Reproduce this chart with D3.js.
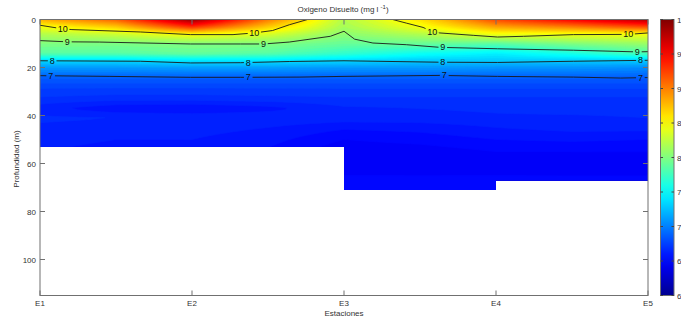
<!DOCTYPE html>
<html><head><meta charset="utf-8">
<script src="https://cdn.jsdelivr.net/npm/d3@7/dist/d3.min.js"></script>
<style>
html,body{margin:0;padding:0;background:#fff;overflow:hidden;}
text{font-family:"Liberation Sans",Arial,sans-serif;}
</style></head>
<body>
<script>
// ---------------- DATA ----------------
const stations = ["E1","E2","E3","E4","E5"];
const depthTicks = [0,20,40,60,80,100];
const colorbarTicks = [6,6.5,7,7.5,8,8.5,9,9.5,10];
const colorbarLabels = ["6","6.5","7","7.5","8","8.5","9","9.5","10"];

// field grid: columns (station position) x rows (depth, m)
const gridCols = [1,1.5,2,2.5,3,3.5,4,4.5,5];
const gridDepths = [0,3,6,10,14,17,20,24,28,33,37,41,45,50,55,60,65,71];
const oxygenGrid = [
  [8.8,9.1,9.9,9.0,8.2,8.6,9.2,9.5,9.8],
  [8.45,8.7,9.3,8.7,8.15,8.45,8.85,9.0,9.2],
  [8.2,8.3,8.5,8.35,8.05,8.2,8.45,8.45,8.45],
  [8.0,7.98,8.0,8.0,7.9,7.9,7.85,8.0,8.1],
  [7.85,7.85,7.9,7.85,7.7,7.55,7.45,7.6,7.8],
  [7.35,7.35,7.4,7.4,7.35,7.3,7.3,7.3,7.3],
  [7.1,7.1,7.12,7.12,7.1,7.1,7.08,7.08,7.05],
  [6.87,6.87,6.87,6.87,6.87,6.87,6.87,6.87,6.87],
  [6.76,6.76,6.76,6.76,6.76,6.76,6.76,6.76,6.76],
  [6.69,6.67,6.67,6.68,6.69,6.69,6.69,6.69,6.69],
  [6.62,6.56,6.55,6.58,6.64,6.65,6.66,6.67,6.67],
  [6.66,6.65,6.64,6.64,6.63,6.63,6.64,6.64,6.65],
  [6.64,6.63,6.62,6.6,6.56,6.57,6.6,6.62,6.62],
  [6.62,6.6,6.6,6.57,6.5,6.52,6.55,6.56,6.55],
  [6.6,6.58,6.58,6.54,6.46,6.47,6.5,6.5,6.5],
  [6.6,6.58,6.58,6.54,6.47,6.47,6.48,6.49,6.5],
  [6.6,6.58,6.58,6.54,6.5,6.5,6.5,6.5,6.5],
  [6.6,6.58,6.58,6.54,6.53,6.52,6.52,6.5,6.5]
];

// sampled bottom (data extent) per station interval
const bottomFrom = [1,3,4];
const bottomTo = [3,4,5];
const bottomDepth = [53,71,67];

// contour lines: [station position, depth]
const contour10a = [[1,2.4],[1.15,3.9],[1.21,4.2],[1.66,5.2],[1.99,6.3],[2.27,6.3],[2.41,5.6],[2.53,4.6],[2.64,2.2],[2.76,0]];
const contour10b = [[3.32,0],[3.41,1.5],[3.52,3.3],[3.58,5.0],[3.63,5.6],[3.85,6.6],[4.01,7.3],[4.18,7.0],[4.51,6.3],[4.87,6.2],[5,5.6]];
const contour9 = [[1,8.8],[1.18,9.3],[1.39,9.4],[1.99,10.2],[2.32,10.2],[2.47,10.2],[2.64,9.4],[2.91,7.0],[3.0,4.9],[3.07,8.2],[3.19,9.8],[3.41,10.5],[3.63,11.6],[4.01,12.2],[4.51,12.8],[4.93,13.5],[5,13.4]];
const contour8 = [[1,17.2],[1.66,17.4],[1.99,18.1],[2.32,18.0],[2.64,17.5],[3.0,17.2],[3.63,17.8],[4.01,17.9],[4.51,17.4],[5,17.0]];
const contour7 = [[1,23.4],[1.46,23.7],[1.99,24.1],[2.32,24.1],[2.71,24.0],[3.0,23.7],[3.63,23.3],[4.01,23.7],[4.51,24.0],[4.82,24.4],[5,24.2]];
const contourLines = [
  {label:"10", pts:contour10a, at:[1.15,2.41]},
  {label:"10", pts:contour10b, at:[3.58,4.87]},
  {label:"9", pts:contour9, at:[1.18,2.47,3.65,4.93]},
  {label:"8", pts:contour8, at:[1.08,2.37,3.65,4.95]},
  {label:"7", pts:contour7, at:[1.07,2.37,3.66,4.95]}
];

// ---------------- CHART ----------------
const W = 681, H = 321;
const x = d3.scaleLinear().domain([1,5]).range([40,648]);
const y = d3.scaleLinear().domain([0,115]).range([19.5,295.5]);
const jet = d3.scaleLinear()
  .domain([6,6.5,7.5,8.5,9.5,10])
  .range(["#00008f","#0000ff","#00ffff","#ffff00","#ff0000","#800000"])
  .clamp(true);
const cbY = d3.scaleLinear().domain([6,10]).range([295.5,19.5]);

const svg = d3.select("body").append("svg").attr("width",W).attr("height",H);
const defs = svg.append("defs");

// clip polygon from bottom data
const clipPts = [[x(1),y(0)],[x(5),y(0)]];
for (let i = bottomFrom.length-1; i >= 0; i--) {
  clipPts.push([x(bottomTo[i]), y(bottomDepth[i])]);
  clipPts.push([x(bottomFrom[i]), y(bottomDepth[i])]);
}
defs.append("clipPath").attr("id","dataClip")
  .append("polygon").attr("points", clipPts.map(p=>p.join(",")).join(" "));

// bilinear interpolation helper on the grid
function interp1(arr, v){
  let i = d3.bisectRight(arr, v) - 1;
  i = Math.max(0, Math.min(arr.length-2, i));
  const t = (v - arr[i])/(arr[i+1]-arr[i]);
  return [i, Math.max(0, Math.min(1, t))];
}
function field(s, d){
  const [i,tx] = interp1(gridCols, s);
  const [j,ty] = interp1(gridDepths, d);
  const a = oxygenGrid[j][i], b = oxygenGrid[j][i+1];
  const c = oxygenGrid[j+1][i], e = oxygenGrid[j+1][i+1];
  return (a*(1-tx)+b*tx)*(1-ty) + (c*(1-tx)+e*tx)*ty;
}
const nx = 305, ny = 86;
const maxD = d3.max(gridDepths);
const vals = new Array(nx*ny);
for (let j=0;j<ny;j++){
  const d = maxD*j/(ny-1);
  for (let i=0;i<nx;i++){
    const s = 1 + 4*i/(nx-1);
    vals[j*nx+i] = field(s,d);
  }
}
const step = 0.05;
const thresholds = d3.range(5.95, 10.0001, step);
const contours = d3.contours().size([nx,ny]).thresholds(thresholds)(vals);
const sx = (x(5)-x(1))/(nx-1), sy = (y(maxD)-y(0))/(ny-1);
const fieldG = svg.append("g").attr("clip-path","url(#dataClip)")
  .append("g").attr("transform",`translate(${x(1)-0.5*sx},${y(0)-0.5*sy}) scale(${sx},${sy})`);
fieldG.selectAll("path").data(contours).join("path")
  .attr("d", d3.geoPath())
  .attr("fill", d => jet(d.value + step/2))
  .attr("stroke", d => jet(d.value + step/2))
  .attr("stroke-width", 0.3);

// contour lines with label gaps (mask)
const lineGen = d3.line().x(p=>x(p[0])).y(p=>y(p[1]));
function depthAt(pts, s){
  for (let k=0;k<pts.length-1;k++){
    if (s>=pts[k][0] && s<=pts[k+1][0]){
      const t=(s-pts[k][0])/(pts[k+1][0]-pts[k][0]);
      return pts[k][1]+t*(pts[k+1][1]-pts[k][1]);
    }
  }
  return pts[pts.length-1][1];
}
const labels = [];
contourLines.forEach(c => c.at.forEach(s => labels.push({label:c.label, s, d:depthAt(c.pts,s)})));
const mask = defs.append("mask").attr("id","lblMask").attr("maskUnits","userSpaceOnUse")
  .attr("x",0).attr("y",0).attr("width",W).attr("height",H);
mask.append("rect").attr("width",W).attr("height",H).attr("fill","#fff");
labels.forEach(l=>{
  const w = l.label.length*4.6+4;
  mask.append("rect").attr("x",x(l.s)-w/2).attr("y",y(l.d)-4).attr("width",w).attr("height",8).attr("fill","#000");
});
const lineG = svg.append("g").attr("clip-path","url(#dataClip)").append("g").attr("mask","url(#lblMask)");
lineG.selectAll("path").data(contourLines).join("path")
  .attr("d", c=>lineGen(c.pts)).attr("fill","none").attr("stroke","#1a1a1a").attr("stroke-width",0.9);
svg.append("g").selectAll("text").data(labels).join("text")
  .attr("x", l=>x(l.s)).attr("y", l=>y(l.d)+3)
  .attr("text-anchor","middle").attr("font-size",9).attr("fill","#111")
  .text(l=>l.label);

// axes box
const axCol = "#707070", txtCol = "#333";
svg.append("rect").attr("x",x(1)).attr("y",y(0)).attr("width",x(5)-x(1)).attr("height",y(115)-y(0))
  .attr("fill","none").attr("stroke",axCol).attr("stroke-width",1);
// y ticks (inward both sides)
const yt = svg.append("g");
depthTicks.forEach(d=>{
  yt.append("line").attr("x1",x(1)).attr("x2",x(1)+5).attr("y1",y(d)).attr("y2",y(d)).attr("stroke",axCol);
  yt.append("line").attr("x1",x(5)).attr("x2",x(5)-5).attr("y1",y(d)).attr("y2",y(d)).attr("stroke",axCol);
  yt.append("text").attr("x",x(1)-4).attr("y",y(d)+3).attr("text-anchor","end").attr("font-size",8).attr("fill",txtCol).text(d);
});
// x ticks
const xt = svg.append("g");
stations.forEach((s,i)=>{
  xt.append("line").attr("x1",x(i+1)).attr("x2",x(i+1)).attr("y1",y(115)).attr("y2",y(115)-5).attr("stroke",axCol);
  xt.append("line").attr("x1",x(i+1)).attr("x2",x(i+1)).attr("y1",y(0)).attr("y2",y(0)+5).attr("stroke",axCol);
  xt.append("text").attr("x",x(i+1)).attr("y",306).attr("text-anchor","middle").attr("font-size",8).attr("fill",txtCol).text(s);
});
// titles
svg.append("text").attr("x",344).attr("y",316).attr("text-anchor","middle").attr("font-size",8).attr("fill",txtCol).text("Estaciones");
svg.append("text").attr("transform","translate(19,159) rotate(-90)").attr("text-anchor","middle").attr("font-size",8).attr("fill",txtCol).text("Profundidad (m)");
const title = svg.append("text").attr("x",343).attr("y",12).attr("text-anchor","middle").attr("font-size",8).attr("fill",txtCol);
title.append("tspan").text("Oxigeno Disuelto (mg l ");
title.append("tspan").attr("dy",-3).attr("font-size",6).text("-1");
title.append("tspan").attr("dy",3).text(")");

// colorbar
const grad = defs.append("linearGradient").attr("id","cbGrad").attr("x1",0).attr("y1",1).attr("x2",0).attr("y2",0);
d3.range(0,1.0001,0.05).forEach(t=>{
  grad.append("stop").attr("offset",t).attr("stop-color",jet(6+4*t));
});
svg.append("rect").attr("x",660.5).attr("y",cbY(10)).attr("width",13.5).attr("height",cbY(6)-cbY(10))
  .attr("fill","url(#cbGrad)").attr("stroke",axCol).attr("stroke-width",1);
const cbt = svg.append("g");
colorbarTicks.forEach((v,i)=>{
  cbt.append("line").attr("x1",660.5).attr("x2",663).attr("y1",cbY(v)).attr("y2",cbY(v)).attr("stroke","#444");
  cbt.append("line").attr("x1",674).attr("x2",671.5).attr("y1",cbY(v)).attr("y2",cbY(v)).attr("stroke","#444");
  cbt.append("text").attr("x",677).attr("y",cbY(v)+3).attr("font-size",8).attr("fill",txtCol).text(colorbarLabels[i]);
});
</script>
</body></html>
